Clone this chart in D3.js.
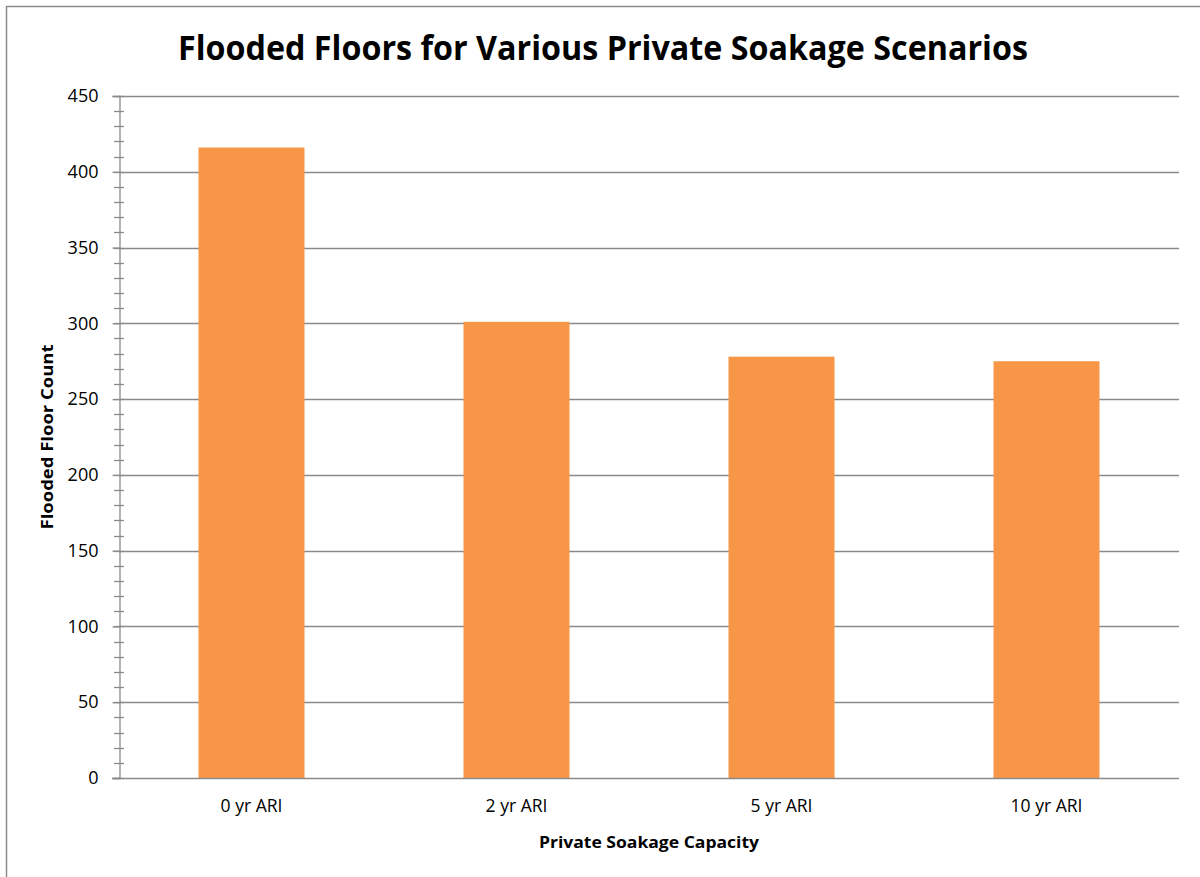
<!DOCTYPE html>
<html lang="en">
<meta charset="utf-8">
<style>
  body { margin: 0; background: #fff; }
  text { font-family: 'Open Sans', sans-serif; fill: #000; }
</style>
<script src="https://cdn.jsdelivr.net/npm/d3@7"></script>
<body>
<div id="chart"></div>
<script>
// chart data
var categories = ["0 yr ARI", "2 yr ARI", "5 yr ARI", "10 yr ARI"];
var counts = [416, 301, 278, 275];
var yTicks = [0, 50, 100, 150, 200, 250, 300, 350, 400, 450];
var minorTicks = d3.range(0, 451, 10);

var titleText = "Flooded Floors for Various Private Soakage Scenarios";
var xTitle = "Private Soakage  Capacity";
var yTitle = "Flooded Floor Count";

var W = 1200, H = 877;
// plot area edges (note: "top" is reserved on window, so use plot* names)
var plotL = 119, plotR = 1179, plotT = 96, plotB = 778;

var svg = d3.select("#chart").append("svg")
  .attr("width", W)
  .attr("height", H);

// outer chart border (only top and left visible in the crop)
svg.append("path")
  .attr("d", "M6.5,877 V6.5 H1200")
  .attr("fill", "none")
  .attr("stroke", "#8c8c8c")
  .attr("stroke-width", 1.5);

var x = d3.scaleBand()
  .domain(categories)
  .range([plotL, plotR])
  .paddingInner(0.6)
  .paddingOuter(0.3);

var y = d3.scaleLinear()
  .domain([0, 450])
  .range([plotB, plotT]);

// gridlines
svg.append("g")
  .selectAll("line")
  .data(yTicks.filter(d => d > 0))
  .enter()
  .append("line")
    .attr("x1", plotL)
    .attr("x2", plotR)
    .attr("y1", d => Math.round(y(d)) + 0.5)
    .attr("y2", d => Math.round(y(d)) + 0.5)
    .attr("stroke", "#8a8a8a")
    .attr("stroke-width", 1.3);

// bars
svg.append("g")
  .selectAll("rect")
  .data(counts)
  .enter()
  .append("rect")
    .attr("x", (d, i) => x(categories[i]))
    .attr("y", d => y(d))
    .attr("width", x.bandwidth())
    .attr("height", d => y(0) - y(d))
    .attr("fill", "#F79646");

// minor ticks on y axis
svg.append("g")
  .selectAll("line")
  .data(minorTicks)
  .enter()
  .append("line")
    .attr("x1", plotL - 5)
    .attr("x2", plotL + 5)
    .attr("y1", d => Math.round(y(d)) + 0.5)
    .attr("y2", d => Math.round(y(d)) + 0.5)
    .attr("stroke", "#8a8a8a")
    .attr("stroke-width", 1.3);

// y axis
var yAxis = svg.append("g")
  .attr("transform", "translate(" + (plotL + 0.5) + ",0)")
  .call(d3.axisLeft(y).tickValues(yTicks).tickSize(7).tickPadding(14));
yAxis.selectAll("path, line").attr("stroke", "#8a8a8a").attr("stroke-width", 1.3);
yAxis.selectAll("text")
  .style("font-family", "'Open Sans', sans-serif")
  .style("font-size", "18px")
  .attr("fill", "#000");

// x axis
var xAxis = svg.append("g")
  .attr("transform", "translate(0," + (plotB + 0.5) + ")")
  .call(d3.axisBottom(x).tickSize(0).tickPadding(21));
xAxis.select(".domain")
  .attr("d", "M" + (plotL - 7) + ",0H" + plotR)
  .attr("stroke", "#8a8a8a")
  .attr("stroke-width", 1.3);
xAxis.selectAll("text")
  .style("font-family", "'Open Sans', sans-serif")
  .style("font-size", "17.5px")
  .attr("fill", "#000");

// titles
svg.append("text")
  .attr("x", 603)
  .attr("y", 60)
  .attr("text-anchor", "middle")
  .attr("textLength", 850)
  .attr("lengthAdjust", "spacingAndGlyphs")
  .style("font-size", "34px")
  .style("font-weight", "bold")
  .text(titleText);

svg.append("text")
  .attr("x", 649)
  .attr("y", 848)
  .attr("text-anchor", "middle")
  .attr("textLength", 220)
  .attr("lengthAdjust", "spacingAndGlyphs")
  .style("font-size", "16px")
  .style("font-weight", "bold")
  .text(xTitle);

svg.append("text")
  .attr("transform", "translate(53,437) rotate(-90)")
  .attr("text-anchor", "middle")
  .attr("textLength", 185)
  .attr("lengthAdjust", "spacingAndGlyphs")
  .style("font-size", "16px")
  .style("font-weight", "bold")
  .text(yTitle);
</script>
</body>
</html>
